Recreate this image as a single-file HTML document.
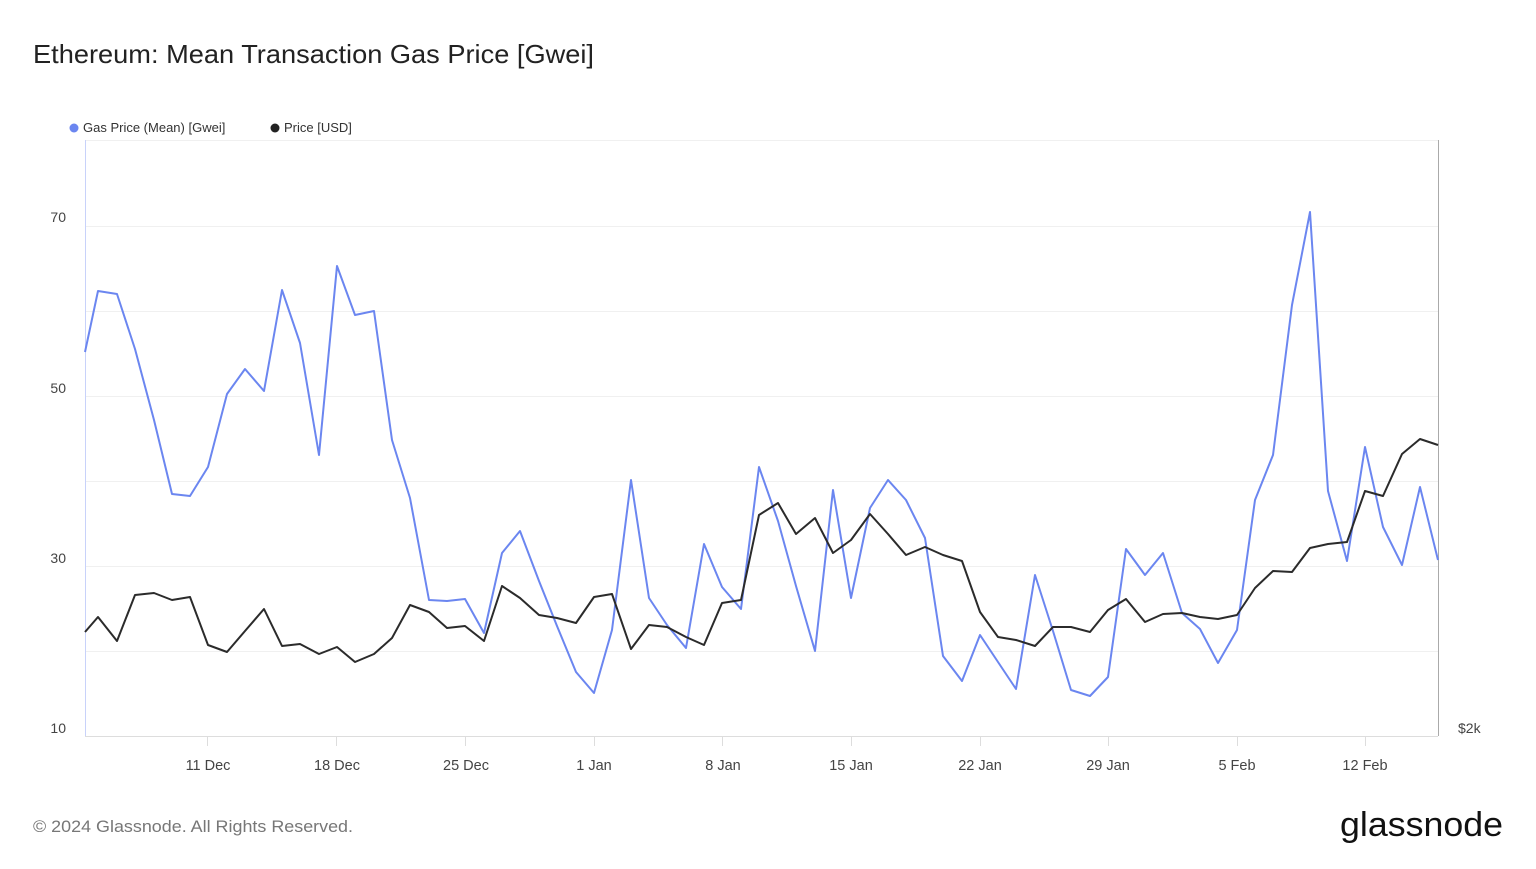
<!DOCTYPE html>
<html><head><meta charset="utf-8"><style>
body{margin:0;background:#fff;font-family:"Liberation Sans",sans-serif;}
svg text{font-family:"Liberation Sans",sans-serif;}
</style></head><body>
<svg width="1536" height="864" viewBox="0 0 1536 864" xmlns="http://www.w3.org/2000/svg">
<rect width="1536" height="864" fill="#fff"/>
<text x="33" y="63" font-size="26" fill="#222" textLength="561" lengthAdjust="spacingAndGlyphs">Ethereum: Mean Transaction Gas Price [Gwei]</text>
<circle cx="74" cy="128" r="4.5" fill="#6b86f0"/>
<text x="83" y="132" font-size="13" fill="#333">Gas Price (Mean) [Gwei]</text>
<circle cx="275" cy="128" r="4.5" fill="#222"/>
<text x="284" y="132" font-size="13" fill="#333">Price [USD]</text>
<g stroke="#f0f0f0" stroke-width="1">
<line x1="85" y1="140.5" x2="1438" y2="140.5"/>
<line x1="85" y1="226.5" x2="1438" y2="226.5"/>
<line x1="85" y1="311.5" x2="1438" y2="311.5"/>
<line x1="85" y1="396.5" x2="1438" y2="396.5"/>
<line x1="85" y1="481.5" x2="1438" y2="481.5"/>
<line x1="85" y1="566.5" x2="1438" y2="566.5"/>
<line x1="85" y1="651.5" x2="1438" y2="651.5"/>
</g>
<line x1="85" y1="736.5" x2="1438" y2="736.5" stroke="#ddd"/>
<line x1="85.5" y1="140" x2="85.5" y2="736" stroke="#c8d2fa"/>
<line x1="1438.5" y1="140" x2="1438.5" y2="736" stroke="#aaa"/>
<g font-size="14" fill="#444" text-anchor="end">
<text x="66" y="222">70</text><text x="66" y="393">50</text><text x="66" y="563">30</text><text x="66" y="733">10</text>
</g>
<text x="1458" y="733" font-size="14" fill="#444">$2k</text>
<g stroke="#ddd"><line x1="207.5" y1="736" x2="207.5" y2="746"/><line x1="336.5" y1="736" x2="336.5" y2="746"/><line x1="465.5" y1="736" x2="465.5" y2="746"/><line x1="594.5" y1="736" x2="594.5" y2="746"/><line x1="722.5" y1="736" x2="722.5" y2="746"/><line x1="851.5" y1="736" x2="851.5" y2="746"/><line x1="980.5" y1="736" x2="980.5" y2="746"/><line x1="1108.5" y1="736" x2="1108.5" y2="746"/><line x1="1237.5" y1="736" x2="1237.5" y2="746"/><line x1="1365.5" y1="736" x2="1365.5" y2="746"/></g>
<g font-size="14.5" fill="#444" text-anchor="middle">
<text x="208" y="770">11 Dec</text><text x="337" y="770">18 Dec</text><text x="466" y="770">25 Dec</text><text x="594" y="770">1 Jan</text><text x="723" y="770">8 Jan</text><text x="851" y="770">15 Jan</text><text x="980" y="770">22 Jan</text><text x="1108" y="770">29 Jan</text><text x="1237" y="770">5 Feb</text><text x="1365" y="770">12 Feb</text>
</g>
<polyline fill="none" stroke="#6b86f0" stroke-width="2" stroke-linejoin="round" points="85,352 98,291 117,294 135,349 154,420 172,494 190,496 208,467 227,394 245,369 264,391 282,290 300,343 319,455 337,266 355,315 374,311 392,440 410,498 429,600 447,601 465,599 484,633 502,553 520,531 539,581 557,626 576,672 594,693 612,630 631,480 649,598 667,625 686,648 704,544 722,587 741,609 759,467 778,521 796,586 815,651 833,490 851,598 870,508 888,480 906,500 925,538 943,656 962,681 980,635 998,662 1016,689 1035,575 1053,631 1071,690 1090,696 1108,677 1126,549 1145,575 1163,553 1182,613 1200,629 1218,663 1237,630 1255,500 1273,455 1292,305 1310,212 1328,491 1347,561 1365,447 1383,527 1402,565 1420,487 1438,560"/>
<polyline fill="none" stroke="#2b2b2b" stroke-width="2" stroke-linejoin="round" points="85,632 98,617 117,641 135,595 154,593 172,600 190,597 208,645 227,652 245,631 264,609 282,646 300,644 319,654 337,647 355,662 374,654 392,638 410,605 429,612 447,628 465,626 484,641 502,586 520,598 539,615 557,618 576,623 594,597 612,594 631,649 649,625 667,627 686,637 704,645 722,603 741,600 759,515 778,503 796,534 815,518 833,553 851,540 870,514 888,534 906,555 925,547 943,555 962,561 980,612 998,637 1016,640 1035,646 1053,627 1071,627 1090,632 1108,610 1126,599 1145,622 1163,614 1182,613 1200,617 1218,619 1237,615 1255,588 1273,571 1292,572 1310,548 1328,544 1347,542 1365,491 1383,496 1402,454 1420,439 1438,445"/>
<text x="33" y="832" font-size="17" fill="#777" textLength="320" lengthAdjust="spacingAndGlyphs">© 2024 Glassnode. All Rights Reserved.</text>
<text x="1503" y="836" font-size="34" fill="#111" text-anchor="end" textLength="163" lengthAdjust="spacingAndGlyphs">glassnode</text>
</svg>
</body></html>
